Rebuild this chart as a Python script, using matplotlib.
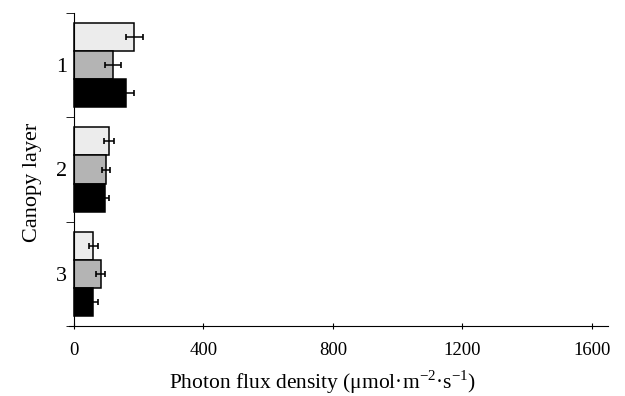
import matplotlib.pyplot as plt
from matplotlib.ticker import FixedLocator
import numpy as np

plt.rcParams['font.family'] = ['Liberation Serif', 'DejaVu Serif']
plt.rcParams['mathtext.fontset'] = 'custom'
plt.rcParams['mathtext.rm'] = 'Liberation Serif'

# Canopy layers and three series per layer (top to bottom within each group)
layers = ['1', '2', '3']
light_vals = [186, 109, 60]
grey_vals = [121, 99, 82]
black_vals = [161, 96, 60]
light_err = [26, 15, 14]
grey_err = [25, 13, 14]
black_err = [23, 13, 15]

series = [
    (light_vals, light_err, '#ececec'),
    (grey_vals, grey_err, '#b4b4b4'),
    (black_vals, black_err, '#000000'),
]

fig = plt.figure(figsize=(6.25, 3.96), dpi=100)
ax = fig.add_axes([74 / 625 - 15 * 0.3237 / 625, 70 / 396,
                   (1665 * 0.3237) / 625, 313 / 396])

y = np.arange(len(layers))
h = 0.27
for k, (vals, errs, col) in enumerate(series):
    ax.barh(y + (k - 1) * h, vals, height=h, color=col, edgecolor='black',
            linewidth=1.1, xerr=errs,
            error_kw=dict(ecolor='black', elinewidth=1.1, capsize=2, capthick=1.2))

ax.set_xlim(-15, 1650)
ax.set_ylim(2.5, -0.5)

for s in ['top', 'right']:
    ax.spines[s].set_visible(False)
ax.spines['left'].set_position(('data', 0))
ax.spines['left'].set_bounds(-0.5, 2.5)

ax.set_xticks([0, 400, 800, 1200, 1600])
ax.tick_params(axis='x', direction='inout', length=5, labelsize=13.5, pad=9)
ax.set_yticks(y)
ax.set_yticklabels(layers)
ax.tick_params(axis='y', which='major', length=0, labelsize=16, pad=5)
ax.yaxis.set_minor_locator(FixedLocator([-0.5, 0.5, 1.5, 2.5]))
ax.tick_params(axis='y', which='minor', direction='out', length=6)

ax.set_xlabel('Photon flux density (μmol·m$^{-2}$·s$^{-1}$)', fontsize=15.5)
ax.set_ylabel('Canopy layer', fontsize=16)
ax.xaxis.set_label_coords(0.47, -0.135)
ax.yaxis.set_label_coords(-0.05, 0.46)

fig.savefig('out.png', dpi=100)
